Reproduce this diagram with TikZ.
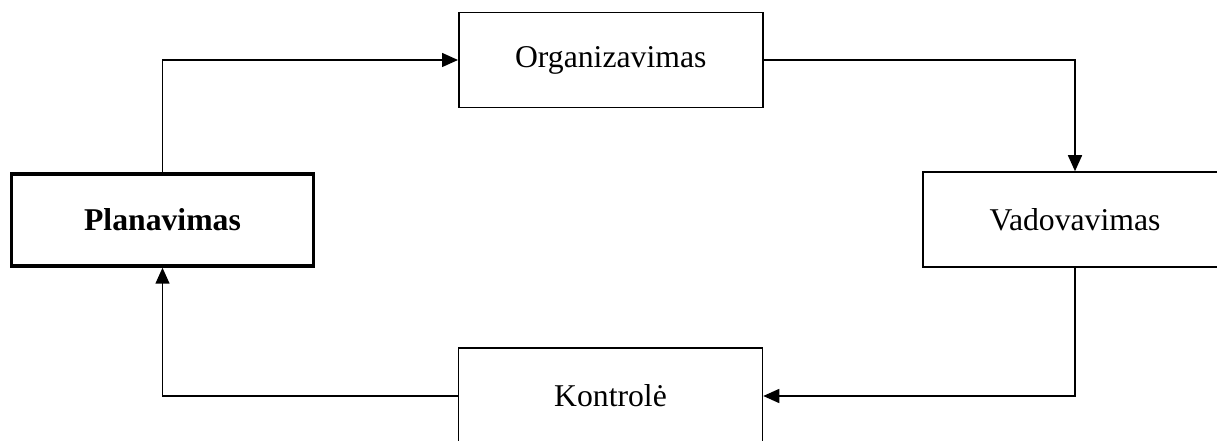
\documentclass[tikz,border=0pt]{standalone}
\usepackage{fontspec}
\setmainfont{Liberation Serif}
\usetikzlibrary{arrows.meta}
\begin{document}
\begin{tikzpicture}[x=1pt,y=1pt,
  stage/.style={draw, line width=1.5pt, minimum width=304pt, minimum height=95pt,
    inner sep=0pt, font=\fontsize{31.7}{38}\selectfont},
  mainstage/.style={stage, line width=3.5pt, minimum width=302pt, minimum height=92pt,
    font=\fontsize{31.7}{38}\selectfont\bfseries},
  flow/.style={line width=1.5pt, -{Triangle[length=16pt,width=14pt]}}]
  \useasboundingbox (0,0) rectangle (1217,441);
  \clip (0,0) rectangle (1217,441);
  \fill[white] (0,0) rectangle (1217,441);
  % management cycle stages
  \node[mainstage] (plan) at (162.5,221) {Planavimas};
  \node[stage] (org)  at (610.75,381) {Organizavimas};
  \node[stage] (vad)  at (1075,221.5) {Vadovavimas};
  \node[stage, minimum height=96pt] (kon) at (610.5,45) {Kontrolė};
  % cycle connectors
  \draw[flow] (plan.north) |- (org.west);
  \draw[flow] (org.east) -| (vad.north);
  \draw[flow] (vad.south) |- (kon.east);
  \draw[flow] (kon.west) -| (plan.south);
\end{tikzpicture}
\end{document}
